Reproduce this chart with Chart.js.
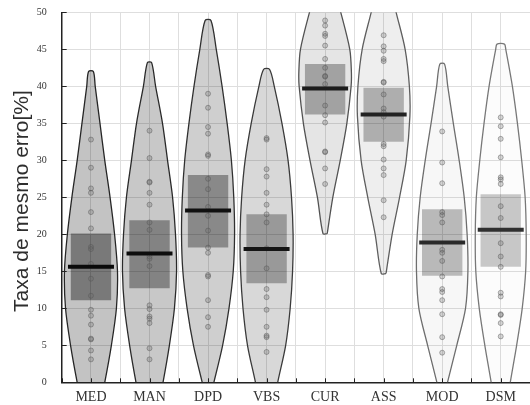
<!DOCTYPE html>
<html><head><meta charset="utf-8">
<script src="https://cdn.jsdelivr.net/npm/chart.js@4.4.1/dist/chart.umd.min.js"></script>
<style>html,body{margin:0;padding:0;background:#fff;}#wrap{width:530px;height:405px;}</style>
</head><body><div id="wrap"><canvas id="c" width="530" height="405"></canvas></div>
<script>
// ---------------- data ----------------
const categories = ['MED','MAN','DPD','VBS','CUR','ASS','MOD','DSM'];
const yTickValues = [0,5,10,15,20,25,30,35,40,45,50];
const yTitle = 'Taxa de mesmo erro[%]';

const obsMED = [32.8,29.0,26.2,25.6,23.0,20.8,18.3,18.0,16.0,14.0,11.7,9.8,9.0,7.8,5.9,5.8,4.3,3.1];
const obsMAN = [34.0,30.3,27.1,27.0,25.6,24.0,21.6,20.6,17.0,16.7,15.7,10.4,9.9,8.9,8.6,8.0,4.6,3.1];
const obsDPD = [39.0,37.1,34.5,33.6,30.8,30.6,27.5,26.1,23.7,22.5,20.5,18.2,17.5,14.5,14.3,11.1,8.8,7.5];
const obsVBS = [33.0,32.8,28.8,27.8,25.6,24.0,22.7,21.6,18.1,15.4,12.6,11.5,9.8,7.5,6.3,6.1,4.1];
const obsCUR = [48.9,48.2,47.1,46.8,45.5,43.7,42.5,41.4,41.3,40.3,37.4,36.1,35.1,31.2,31.1,28.9,26.8];
const obsASS = [46.9,45.4,44.8,43.7,43.4,40.6,40.5,38.9,37.0,36.5,35.9,32.2,31.9,30.1,28.9,28.0,24.6,22.3];
const obsMOD = [33.9,29.7,26.9,23.0,22.6,21.6,17.9,17.5,16.4,14.3,12.6,12.2,11.1,9.2,6.1,4.0];
const obsDSM = [35.8,34.6,32.9,30.4,27.7,27.4,26.8,23.8,22.2,18.8,17.0,15.6,12.1,11.6,9.2,9.1,8.0,6.2];

const medians = [15.6,17.4,23.2,18.0,39.7,36.2,18.9,20.6];
const q1 = [11.1,12.7,18.2,13.4,36.2,32.5,14.4,15.6];
const q3 = [20.1,21.9,28.0,22.7,43.0,39.8,23.4,25.4];

// violin density profiles (relative width at value levels, top -> bottom)
const levMED = [42,40,35,30,25,20,15,10,5,0,-3];
const denMED = [0.09,0.16,0.34,0.52,0.72,0.89,1.0,0.96,0.77,0.52,0.34];
const levMAN = [43.2,40,35,30,25,20,15,10,5,0,-3];
const denMAN = [0.08,0.23,0.49,0.68,0.87,0.98,1.02,0.94,0.75,0.51,0.34];
const levDPD = [48.9,45,40,35,30,25,20,15,10,5,0,-1.5];
const denDPD = [0.11,0.31,0.53,0.72,0.88,0.97,1.0,0.95,0.79,0.55,0.22,0.11];
const levVBS = [42.3,40,35,30,25,20,15,10,5,0,-3];
const denVBS = [0.11,0.29,0.58,0.81,0.94,1.0,0.98,0.89,0.72,0.42,0.26];
const levCUR = [56,54,52,50,45,42,40,35,30,25,20.1];
const denCUR = [0.08,0.23,0.42,0.59,0.93,0.99,0.98,0.82,0.57,0.29,0.08];
const levASS = [56,54,52,50,45,40,36,30,25,20,14.7];
const denASS = [0.08,0.19,0.34,0.47,0.81,0.97,0.99,0.85,0.6,0.32,0.09];
const levMOD = [43,40,35,30,25,20,15,10,5,0,-1.5];
const denMOD = [0.09,0.21,0.42,0.64,0.83,0.94,0.97,0.88,0.55,0.2,0.11];
const levDSM = [45.7,45,40,35,30,25,20,15,10,5,0,-3];
const denDSM = [0.14,0.19,0.44,0.63,0.79,0.92,0.96,0.94,0.81,0.6,0.36,0.23];

// ---------------- styles ----------------
const violinFill = ['rgba(0,0,0,0.235)','rgba(0,0,0,0.216)','rgba(0,0,0,0.188)','rgba(0,0,0,0.153)','rgba(0,0,0,0.102)','rgba(0,0,0,0.067)','rgba(0,0,0,0.031)','rgba(0,0,0,0.012)'];
const violinEdge = ['#262626','#2a2a2a','#303030','#3a3a3a','#525252','#5e5e5e','#6e6e6e','#787878'];
const boxFill = ['rgba(0,0,0,0.38)','rgba(0,0,0,0.35)','rgba(0,0,0,0.34)','rgba(0,0,0,0.295)','rgba(0,0,0,0.295)','rgba(0,0,0,0.27)','rgba(0,0,0,0.255)','rgba(0,0,0,0.21)'];
const medianColor = ['#0a0a0a','#0d0d0d','#101010','#151515','#1c1c1c','#222222','#2a2a2a','#303030'];
const VIOLIN_HALF = 0.453;

const obsAll = [obsMED,obsMAN,obsDPD,obsVBS,obsCUR,obsASS,obsMOD,obsDSM];
const levAll = [levMED,levMAN,levDPD,levVBS,levCUR,levASS,levMOD,levDSM];
const denAll = [denMED,denMAN,denDPD,denVBS,denCUR,denASS,denMOD,denDSM];

const datasets = [];
categories.forEach((c, i) => {
  const lev = levAll[i], den = denAll[i];
  const pts = [];
  for (let k = lev.length - 1; k >= 0; k--) pts.push({x: i + den[k]*VIOLIN_HALF, y: lev[k]});
  for (let k = 0; k < lev.length; k++) pts.push({x: i - den[k]*VIOLIN_HALF, y: lev[k]});
  pts.push(pts[0]);
  datasets.push({
    type: 'line', data: pts, order: 4,
    borderColor: violinEdge[i], borderWidth: 1.3,
    backgroundColor: violinFill[i], fill: 'shape',
    tension: 0.3, pointRadius: 0
  });
});
// box spans 69% of a category; ticks every half category, so the bar ruler unit is half a category
datasets.push({
  type: 'bar', order: 3,
  data: categories.map((c, i) => ({x: i, y: [q1[i], q3[i]]})),
  backgroundColor: boxFill, borderWidth: 0,
  barPercentage: 1.38, categoryPercentage: 1.0
});
const scatterPts = [];
obsAll.forEach((arr, i) => arr.forEach(v => scatterPts.push({x: i, y: v})));
datasets.push({
  type: 'scatter', order: 2, data: scatterPts,
  pointRadius: 2.5, pointBackgroundColor: 'rgba(100,100,100,0.26)',
  pointBorderColor: 'rgba(85,85,85,0.45)', pointBorderWidth: 1
});
datasets.push({
  type: 'scatter', order: 1,
  data: categories.map((c, i) => ({x: i, y: medians[i]})),
  pointStyle: 'line', pointRadius: 23, pointBorderWidth: 4,
  pointBorderColor: medianColor
});

const decorations = {
  id: 'decorations',
  afterDatasetsDraw(chart) {
    const {ctx, chartArea: a, scales: {x, y}} = chart;
    ctx.save();
    ctx.strokeStyle = '#222'; ctx.lineWidth = 1;
    yTickValues.forEach(v => {
      const py = Math.round(y.getPixelForValue(v)) + 0.5;
      ctx.beginPath(); ctx.moveTo(a.left, py); ctx.lineTo(a.left + 5, py); ctx.stroke();
    });
    for (let v = -0.5; v <= 7.5; v += 0.5) {
      const px = Math.round(x.getPixelForValue(v)) + 0.5;
      ctx.beginPath(); ctx.moveTo(px, a.bottom); ctx.lineTo(px, a.bottom - 4); ctx.stroke();
    }
    ctx.restore();
  },
  afterDraw(chart) {
    const ctx = chart.ctx;
    ctx.save();
    ctx.translate(22, 201);
    ctx.rotate(-Math.PI / 2);
    ctx.font = '21px "Liberation Sans"';
    ctx.fillStyle = '#2e2e2e';
    ctx.textAlign = 'center';
    ctx.textBaseline = 'middle';
    ctx.fillText(yTitle, 0, 0);
    ctx.restore();
  }
};

new Chart(document.getElementById('c'), {
  type: 'scatter',
  data: { datasets },
  plugins: [decorations],
  options: {
    responsive: false, animation: false, devicePixelRatio: 1, events: [],
    layout: { autoPadding: false, padding: { top: 12.3, right: 0, left: 0, bottom: 0 } },
    plugins: { legend: { display: false }, tooltip: { enabled: false } },
    scales: {
      x: {
        type: 'linear', min: -0.5, max: 7.5, offset: false,
        afterFit(s) { s.height = 22.7; s.paddingLeft = 0; s.paddingRight = 0; },
        afterBuildTicks(s) { s.ticks = []; for (let v = -0.5; v <= 7.5; v += 0.5) s.ticks.push({value: v}); },
        ticks: {
          autoSkip: false, maxRotation: 0, padding: 7, color: '#333',
          font: { family: 'Liberation Serif', size: 14 },
          callback: v => Number.isInteger(v) ? categories[v] : ''
        },
        grid: { color: '#dedede', lineWidth: 1, drawTicks: false, offset: false },
        border: { display: true, color: '#222', width: 1.5 }
      },
      y: {
        type: 'linear', min: 0, max: 50,
        afterFit(s) { s.width = 61.7; s.paddingTop = 0; s.paddingBottom = 0; },
        afterBuildTicks(s) { s.ticks = yTickValues.map(v => ({value: v})); },
        ticks: { padding: 15, color: '#333', font: { family: 'Liberation Serif', size: 10 } },
        grid: { color: '#dedede', lineWidth: 1, drawTicks: false },
        border: { display: true, color: '#222', width: 1.5 },
        title: { display: false }
      }
    }
  }
});
</script></body></html>
